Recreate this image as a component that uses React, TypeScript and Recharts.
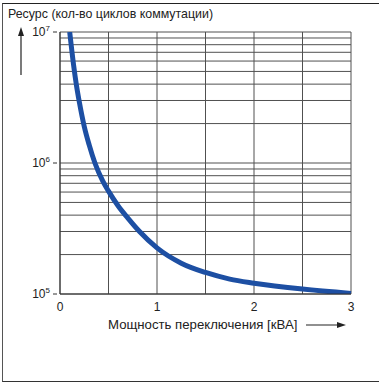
import React from 'react';
import { LineChart, Line, XAxis, YAxis, CartesianGrid } from 'recharts';

const power = [0.1, 0.14, 0.17, 0.2, 0.25, 0.3, 0.36, 0.44, 0.5, 0.6, 0.7, 0.82, 1.0, 1.25, 1.5, 1.75, 2.0, 2.5, 3.0];
const cycles = [
  1e7, 5.6e6, 3.9e6, 2.9e6, 1.9e6, 1.38e6, 1e6, 7.3e5, 6.1e5, 4.7e5,
  3.8e5, 3e5, 2.25e5, 1.72e5, 1.46e5, 1.3e5, 1.21e5, 1.09e5, 1.01e5,
];

const xTicks = [0, 0.5, 1, 1.5, 2, 2.5, 3];
const yTicks = [
  1e5, 2e5, 3e5, 4e5, 5e5, 6e5, 7e5, 8e5, 9e5,
  1e6, 2e6, 3e6, 4e6, 5e6, 6e6, 7e6, 8e6, 9e6, 1e7,
];

const data = power.map((p, i) => ({ power: p, cycles: cycles[i] }));

const font = '"Liberation Sans", Arial, sans-serif';

const YTick = (props: any) => {
  const { x, y, payload } = props;
  const exp = Math.log10(payload.value);
  if (Math.abs(exp - Math.round(exp)) > 1e-6) return null;
  return (
    <g>
      <line x1={x + 1} x2={x + 5} y1={y} y2={y} stroke="#333" />
      <text x={x - 2} y={y + 4} textAnchor="end" fontSize={12} fill="#222" fontFamily={font}>
        10
        <tspan dy={-5} fontSize={8}>{Math.round(exp)}</tspan>
      </text>
    </g>
  );
};

export default function App() {
  return (
    <div style={{ position: 'absolute', left: 0, top: 0, width: 379, height: 383, background: '#fff', fontFamily: font, overflow: 'hidden' }}>
      <div
        style={{
          position: 'absolute', left: 2, top: 3, width: 400, height: 377,
          borderTop: '1.5px solid #222', borderLeft: '1px solid #555', borderBottom: '1.5px solid #333',
        }}
      />
      <div style={{ position: 'absolute', left: 8, top: 7, fontSize: 12.4, color: '#222', whiteSpace: 'nowrap' }}>
        Ресурс (кол-во циклов коммутации)
      </div>
      <div style={{ position: 'absolute', left: 108, top: 317, fontSize: 13.2, color: '#222', whiteSpace: 'nowrap' }}>
        Мощность переключения [кВА]
      </div>
      <svg style={{ position: 'absolute', left: 0, top: 0 }} width={379} height={383}>
        <line x1={21} y1={34} x2={21} y2={75} stroke="#222" strokeWidth={1.2} />
        <polygon points="21,27 18,36 24,36" fill="#222" />
        <line x1={306} y1={325} x2={339} y2={325} stroke="#222" strokeWidth={1.2} />
        <polygon points="346,325 337,322 337,328" fill="#222" />
      </svg>
      <div style={{ position: 'absolute', left: 0, top: 0 }}>
        <LineChart width={379} height={383} data={data} margin={{ top: 32, right: 28, bottom: 59, left: 0 }}>
          <CartesianGrid stroke="#505050" strokeWidth={1} />
          <XAxis
            dataKey="power"
            type="number"
            domain={[0, 3]}
            ticks={xTicks}
            tickFormatter={(v: number) => (Number.isInteger(v) ? String(v) : '')}
            tickLine={false}
            axisLine={{ stroke: '#333' }}
            height={30}
            tick={{ fontSize: 12, fill: '#222', fontFamily: font }}
            tickMargin={2}
          />
          <YAxis
            dataKey="cycles"
            scale="log"
            type="number"
            domain={[1e5, 1e7]}
            ticks={yTicks}
            allowDataOverflow
            width={60}
            tickLine={false}
            axisLine={{ stroke: '#333' }}
            tick={<YTick />}
            interval={0}
          />
          <Line
            type="monotone"
            dataKey="cycles"
            stroke="#1d4fa3"
            strokeWidth={5}
            dot={false}
            isAnimationActive={false}
          />
        </LineChart>
      </div>
    </div>
  );
}
